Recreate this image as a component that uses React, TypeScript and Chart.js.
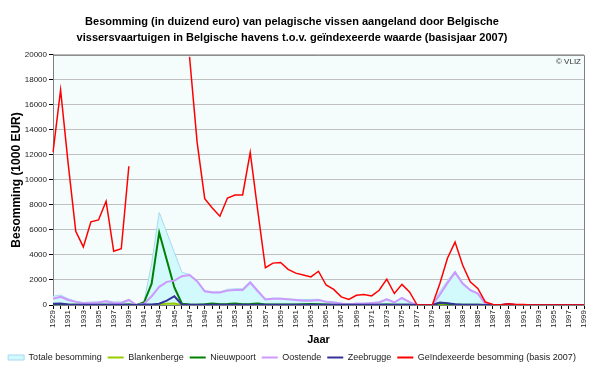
import React, { useEffect, useRef } from "react";
import { Chart, registerables } from "chart.js";

Chart.register(...registerables);

const years: string[] = [];
for (let y = 1929; y <= 1999; y++) years.push(String(y));

const titleLines = [
  "Besomming (in duizend euro) van pelagische vissen aangeland door Belgische",
  "vissersvaartuigen in Belgische havens t.o.v. geïndexeerde waarde (basisjaar 2007)",
];

// 1929 .. 1999
const totaal = [
  700, 800, 500, 300, 200, 250, 250, 350, 250, 250, 450,
  0, 300, 3300, 7400, 5800, 4200, 2600, 2450, 1950, 1150,
  1050, 1050, 1250, 1300, 1300, 1900, 1200, 500, 550, 550,
  500, 450, 450, 450, 450, 300, 250, 150, 100, 150,
  150, 200, 250, 500, 250, 600, 280, 0, 0, 50,
  1100, 1950, 2700, 1800, 1250, 950, 150, 50, 0, 100,
  50, 0, 0, 0, 0, 0, 0, 0, 0, 0,
];

const blankenberge = [
  0, 0, 0, 0, 0, 0, 0, 0, 0, 0, 0,
  0, 0, 0, 50, 100, 120, 0, 0, 0, 0,
  0, 0, 0, 0, 0, 0, 0, 0, 0, 0,
  0, 0, 0, 0, 0, 0, 0, 0, 0, 0,
  0, 0, 0, 0, 0, 0, 0, 0, 0, 0,
  0, 0, 0, 0, 0, 0, 0, 0, 0, 0,
  0, 0, 0, 0, 0, 0, 0, 0, 0, 0,
];

const nieuwpoort = [
  50, 50, 30, 20, 20, 20, 20, 30, 20, 20, 50,
  0, 200, 1700, 5800, 3600, 1400, 100, 50, 30, 60,
  120, 60, 80, 120, 60, 80, 120, 50, 40, 40,
  40, 40, 60, 80, 60, 40, 30, 30, 30, 30,
  30, 30, 30, 40, 30, 30, 30, 0, 0, 0,
  150, 100, 50, 30, 20, 20, 0, 0, 0, 0,
  0, 0, 0, 0, 0, 0, 0, 0, 0, 0,
];

const oostende = [
  500, 650, 400, 250, 150, 150, 200, 300, 150, 150, 400,
  0, 100, 700, 1450, 1850, 1950, 2300, 2400, 1900, 1100,
  1000, 1000, 1150, 1200, 1200, 1800, 1100, 450, 500, 500,
  450, 400, 350, 350, 400, 250, 200, 100, 50, 100,
  100, 150, 200, 460, 200, 560, 230, 0, 0, 0,
  830, 1750, 2610, 1720, 1180, 910, 100, 0, 0, 0,
  0, 0, 0, 0, 0, 0, 0, 0, 0, 0,
];

const zeebrugge = [
  100, 120, 50, 30, 30, 30, 30, 30, 30, 30, 30,
  0, 50, 50, 100, 350, 700, 20, 20, 20, 20,
  20, 20, 20, 20, 20, 20, 20, 20, 20, 20,
  20, 20, 20, 20, 20, 20, 20, 20, 20, 20,
  20, 20, 20, 20, 20, 20, 20, 0, 0, 0,
  200, 150, 60, 30, 20, 20, 0, 0, 0, 80,
  0, 0, 0, 0, 0, 0, 0, 0, 0, 0,
];

const geindexeerd: (number | null)[] = [
  12200, 17200, 11300, 5900, 4650, 6650, 6800, 8300, 4300, 4500, 11100,
  null, null, null, null, null, null, null, 19850, 13000, 8500,
  7750, 7100, 8550, 8800, 8800, 12200, 7500, 2980, 3350, 3400,
  2850, 2550, 2400, 2250, 2700, 1600, 1250, 650, 450, 780,
  830, 730, 1180, 2070, 920, 1650, 1050, 0, 0, 0,
  1720, 3740, 5030, 3200, 1850, 1320, 240, 50, 0, 100,
  50, 50, 0, 0, 0, 0, 0, 0, 0, 0,
];

const FONT = "'Liberation Sans', Arial, sans-serif";

const bgPlugin = {
  id: "plotBg",
  beforeDraw(chart: any) {
    const { ctx, chartArea } = chart;
    ctx.save();
    ctx.fillStyle = "#f5fcfc";
    ctx.fillRect(chartArea.left, chartArea.top, chartArea.right - chartArea.left, chartArea.bottom - chartArea.top);
    ctx.restore();
  },
  afterDraw(chart: any) {
    const { ctx, chartArea } = chart;
    ctx.save();
    ctx.strokeStyle = "#808080";
    ctx.lineWidth = 1;
    ctx.beginPath();
    ctx.moveTo(chartArea.left, chartArea.top + 0.5);
    ctx.lineTo(chartArea.right + 0.5, chartArea.top + 0.5);
    ctx.lineTo(chartArea.right + 0.5, chartArea.bottom);
    ctx.stroke();
    ctx.fillStyle = "#333";
    ctx.font = `8px ${FONT}`;
    ctx.textAlign = "right";
    ctx.textBaseline = "top";
    ctx.fillText("© VLIZ", chartArea.right - 3, chartArea.top + 3);
    ctx.restore();
  },
};

export default function App() {
  const ref = useRef<HTMLCanvasElement | null>(null);
  useEffect(() => {
    document.body.style.margin = "0";
    const line = (label: string, data: any[], color: string, width: number) => ({
      label,
      data,
      borderColor: color,
      backgroundColor: color,
      borderWidth: width,
      pointRadius: 0,
      fill: false,
      tension: 0,
      spanGaps: false,
    });
    const chart = new Chart(ref.current!, {
      type: "line",
      data: {
        labels: years,
        datasets: [
          {
            label: "Totale besomming",
            data: totaal,
            borderColor: "#a8d8f0",
            backgroundColor: "#d2fafc",
            borderWidth: 1,
            pointRadius: 0,
            fill: "origin",
            tension: 0,
            order: 10,
          } as any,
          { ...line("Blankenberge", blankenberge, "#99cc00", 2), order: 5 },
          { ...line("Nieuwpoort", nieuwpoort, "#008000", 2), order: 4 },
          { ...line("Oostende", oostende, "#cc99ff", 2), order: 3 },
          { ...line("Zeebrugge", zeebrugge, "#333399", 2), order: 2 },
          { ...line("Geïndexeerde besomming (basis 2007)", geindexeerd, "#ff0000", 1.5), order: 1 },
        ],
      },
      options: {
        animation: false,
        responsive: false,
        layout: { padding: { top: 8, right: 16, left: 0, bottom: -4 } },
        plugins: {
          title: {
            display: true,
            text: titleLines,
            color: "#000",
            font: { family: FONT, size: 11, weight: "bold", lineHeight: 1.45 },
            padding: { top: 6, bottom: 9 },
          },
          legend: {
            position: "bottom",
            labels: {
              color: "#222",
              font: { family: FONT, size: 9 },
              usePointStyle: true,
              pointStyleWidth: 16,
              boxHeight: 5,
              padding: 6,
              sort: (a: any, b: any) => a.datasetIndex - b.datasetIndex,
              generateLabels: (chart: any) =>
                chart.data.datasets.map((ds: any, i: number) => ({
                  text: ds.label,
                  datasetIndex: i,
                  fillStyle: i === 0 ? ds.backgroundColor : ds.borderColor,
                  strokeStyle: ds.borderColor,
                  lineWidth: i === 0 ? 1 : 2,
                  pointStyle: i === 0 ? "rect" : "line",
                  fontColor: "#222",
                  hidden: false,
                })),
            },
          },
          tooltip: { enabled: false },
        },
        scales: {
          x: {
            type: "category",
            offset: false,
            grid: { display: true, drawOnChartArea: false, drawTicks: true, tickLength: 4, color: "#000" },
            border: { display: true, color: "#808080" },
            ticks: {
              autoSkip: false,
              minRotation: 90,
              maxRotation: 90,
              padding: 1,
              color: "#222",
              font: { family: FONT, size: 8 },
              callback: (_v: any, i: number) => (i % 2 === 0 ? years[i] : ""),
            },
            title: {
              display: true,
              text: "Jaar",
              color: "#000",
              font: { family: FONT, size: 11, weight: "bold" },
              padding: { top: 5, bottom: 0 },
            },
          },
          y: {
            min: 0,
            max: 20000,
            afterFit: (s: any) => {
              s.width = 53;
            },
            grid: { color: "#c0c0c0", tickLength: 4, drawTicks: true, tickColor: "#000" } as any,
            border: { display: true, color: "#808080" },
            ticks: {
              stepSize: 2000,
              color: "#222",
              padding: 2,
              font: { family: FONT, size: 8 },
              callback: (v: any) => String(v),
            },
            title: {
              display: true,
              text: "Besomming (1000 EUR)",
              color: "#000",
              font: { family: FONT, size: 12, weight: "bold" },
              padding: { top: 9, bottom: 0 },
            },
          },
        },
      },
      plugins: [bgPlugin],
    });
    return () => chart.destroy();
  }, []);
  return (
    <div style={{ width: 600, height: 368 }}>
      <canvas ref={ref} width={600} height={368} style={{ display: "block" }} />
    </div>
  );
}
